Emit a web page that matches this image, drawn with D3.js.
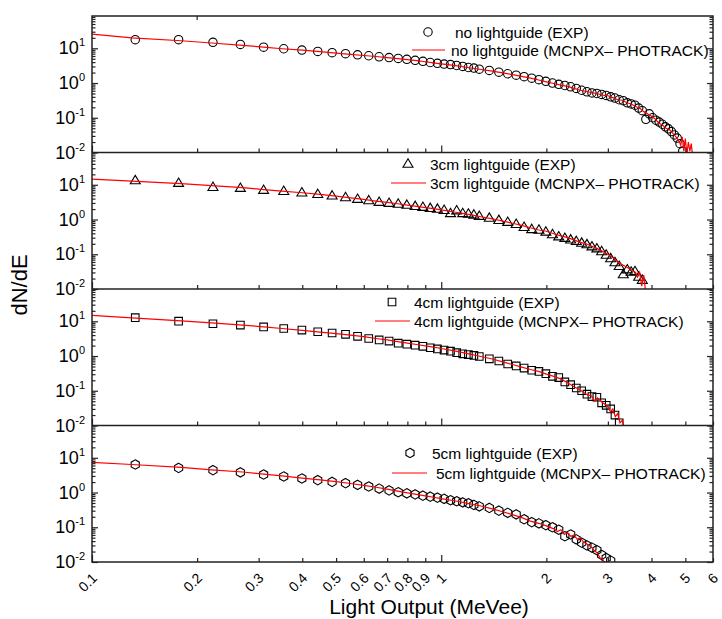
<!DOCTYPE html>
<html>
<head>
<meta charset="utf-8">
<script src="https://cdn.jsdelivr.net/npm/d3@7"></script>
<style>
  body { margin: 0; background: #fff; }
  text { font-family: Arial, "Liberation Sans", sans-serif; fill: #000; }
</style>
</head>
<body>
<svg id="chart" width="722" height="619"></svg>
<script>
// measured channel centres (MeVee) shared by the four EXP spectra
const expEnergy = [
  0.133, 0.177, 0.222, 0.266, 0.310, 0.354, 0.399, 0.443, 0.487, 0.532,
  0.576, 0.620, 0.664, 0.709, 0.753, 0.797, 0.842, 0.886, 0.930, 0.975,
  1.019, 1.063, 1.107, 1.152, 1.196, 1.240, 1.285,
  1.373, 1.462, 1.550, 1.639, 1.727, 1.816, 1.904, 1.993, 2.082, 2.170,
  2.259, 2.347, 2.436, 2.524, 2.613, 2.701, 2.790, 2.879, 2.967, 3.056,
  3.144, 3.233, 3.321, 3.410, 3.498, 3.587, 3.676, 3.764, 3.853, 3.941,
  4.030, 4.118, 4.207, 4.295, 4.384, 4.473, 4.561, 4.650, 4.738, 4.827, 4.915
];

const expNoLg = [
  17.7, 17.7, 14.8, 12.9, 10.8, 9.7, 8.9, 8.1, 7.5, 7.0,
  6.5, 6.1, 5.7, 5.4, 5.1, 4.8, 4.5, 4.2, 3.9, 3.7,
  3.5, 3.4, 3.2, 3.0, 2.8, 2.7, 2.5,
  2.3, 2.05, 1.85, 1.68, 1.52, 1.38, 1.25, 1.12, 1.0, 0.92,
  0.85, 0.78, 0.70, 0.62, 0.56, 0.52, 0.50, 0.47, 0.44, 0.40,
  0.37, 0.33, 0.31, 0.27, 0.25, 0.23, 0.19, 0.16, 0.09, 0.13,
  0.10, 0.085, 0.075, 0.065, 0.055, 0.048, 0.040, 0.032, 0.026, 0.018, 0.011
];
const exp3cm = [
  13.2, 11.1, 8.5, 8.0, 7.0, 6.5, 5.9, 5.3, 4.8, 4.3,
  3.85, 3.5, 3.15, 2.95, 2.8, 2.6, 2.4, 2.26, 2.1, 2.0,
  1.85, 1.5, 1.8, 1.5, 1.45, 1.36, 1.25,
  1.1, 0.95, 0.84, 0.73, 0.6, 0.52, 0.5, 0.44, 0.37, 0.32,
  0.29, 0.26, 0.235, 0.21, 0.19, 0.165, 0.145, 0.12, 0.095, 0.075,
  0.058, 0.045, 0.026, 0.036, 0.031, 0.032, 0.022, 0.018
];
const exp4cm = [
  12.7, 10.1, 8.5, 7.8, 6.9, 6.2, 5.6, 5.0, 4.6, 4.2,
  3.7, 3.2, 2.9, 2.7, 2.35, 2.2, 2.05, 1.9, 1.73, 1.6,
  1.48, 1.38, 1.25, 1.16, 1.1, 1.04, 0.97,
  0.83, 0.72, 0.59, 0.52, 0.45, 0.39, 0.36, 0.31, 0.26, 0.24,
  0.18, 0.15, 0.12, 0.10, 0.08, 0.068, 0.065, 0.045, 0.038, 0.03,
  0.02, 0.012
];
const exp5cm = [
  6.4, 5.1, 4.4, 3.8, 3.3, 2.9, 2.54, 2.27, 2.02, 1.86,
  1.66, 1.49, 1.3, 1.15, 1.02, 0.95, 0.88, 0.81, 0.76, 0.71,
  0.66, 0.6, 0.56, 0.52, 0.49, 0.44, 0.40,
  0.36, 0.30, 0.26, 0.235, 0.17, 0.14, 0.13, 0.115, 0.10, 0.085,
  0.055, 0.062, 0.045, 0.036, 0.030, 0.026, 0.022, 0.016, 0.013, 0.011
];

// MCNPX-PHOTRACK simulated spectra
const simNoLgE = [0.10, 0.13, 0.18, 0.22, 0.27, 0.31, 0.35, 0.40, 0.45, 0.50, 0.55, 0.60, 0.65, 0.70, 0.75, 0.80, 0.85, 0.90, 0.95, 1.00,
  1.10, 1.20, 1.30, 1.40, 1.50, 1.60, 1.70, 1.80, 1.90, 2.00, 2.10, 2.20, 2.30, 2.40, 2.50, 2.60, 2.70, 2.80, 2.90, 3.00,
  3.10, 3.20, 3.30, 3.40, 3.50, 3.60, 3.70, 3.80, 3.90, 4.00, 4.10, 4.20, 4.30, 4.40, 4.50, 4.60, 4.70, 4.80, 4.85, 4.90,
  4.95, 5.00, 5.05, 5.10, 5.15, 5.20, 5.25];
const simNoLgV = [25.6, 20, 16.5, 14.2, 12.2, 10.8, 9.7, 8.8, 8.0, 7.3, 6.7, 6.2, 5.8, 5.4, 5.05, 4.7, 4.4, 4.1, 3.8, 3.55,
  3.15, 2.75, 2.45, 2.2, 1.95, 1.75, 1.55, 1.38, 1.22, 1.08, 0.97, 0.87, 0.80, 0.70, 0.62, 0.57, 0.53, 0.49, 0.45, 0.43,
  0.38, 0.33, 0.32, 0.27, 0.25, 0.21, 0.19, 0.15, 0.13, 0.11, 0.092, 0.07, 0.062, 0.05, 0.046, 0.036, 0.028, 0.021, 0.016, 0.028,
  0.011, 0.025, 0.009, 0.02, 0.011, 0.018, 0.007];

const sim3cmE = [0.10, 0.13, 0.18, 0.22, 0.27, 0.31, 0.35, 0.40, 0.45, 0.50, 0.55, 0.60, 0.65, 0.70, 0.75, 0.80, 0.85, 0.90, 0.95, 1.00,
  1.10, 1.20, 1.30, 1.40, 1.50, 1.60, 1.70, 1.80, 1.90, 2.00, 2.10, 2.20, 2.30, 2.40, 2.50, 2.60, 2.70, 2.80, 2.90, 3.00,
  3.10, 3.20, 3.30, 3.40, 3.50, 3.60, 3.65, 3.70, 3.75, 3.80, 3.85];
const sim3cmV = [14.5, 12.8, 10.8, 9.5, 8.3, 7.3, 6.6, 5.9, 5.3, 4.7, 4.2, 3.8, 3.4, 3.1, 2.85, 2.6, 2.4, 2.2, 2.05, 1.9,
  1.62, 1.4, 1.2, 1.05, 0.9, 0.78, 0.68, 0.58, 0.5, 0.46, 0.39, 0.34, 0.3, 0.26, 0.22, 0.2, 0.17, 0.145, 0.12, 0.1,
  0.08, 0.06, 0.05, 0.042, 0.036, 0.03, 0.022, 0.03, 0.012, 0.025, 0.008];

const sim4cmE = [0.10, 0.13, 0.18, 0.22, 0.27, 0.31, 0.35, 0.40, 0.45, 0.50, 0.55, 0.60, 0.65, 0.70, 0.75, 0.80, 0.85, 0.90, 0.95, 1.00,
  1.10, 1.20, 1.30, 1.40, 1.50, 1.60, 1.70, 1.80, 1.90, 2.00, 2.10, 2.20, 2.30, 2.40, 2.50, 2.60, 2.70, 2.75, 2.80, 2.90,
  3.00, 3.05, 3.10, 3.15, 3.20, 3.25, 3.30, 3.35];
const sim4cmV = [14.8, 12.5, 10.3, 9.0, 7.8, 6.9, 6.2, 5.5, 4.9, 4.4, 4.0, 3.6, 3.2, 2.9, 2.6, 2.35, 2.15, 1.95, 1.8, 1.65,
  1.38, 1.15, 0.97, 0.82, 0.68, 0.57, 0.48, 0.41, 0.36, 0.3, 0.26, 0.22, 0.17, 0.13, 0.105, 0.08, 0.07, 0.05, 0.062, 0.045,
  0.036, 0.025, 0.03, 0.018, 0.022, 0.012, 0.014, 0.008];

const sim5cmE = [0.10, 0.13, 0.18, 0.22, 0.27, 0.31, 0.35, 0.40, 0.45, 0.50, 0.55, 0.60, 0.65, 0.70, 0.75, 0.80, 0.85, 0.90, 0.95, 1.00,
  1.10, 1.20, 1.30, 1.40, 1.50, 1.60, 1.70, 1.80, 1.90, 2.00, 2.10, 2.15, 2.20, 2.25, 2.30, 2.35, 2.40, 2.45, 2.50, 2.55,
  2.60, 2.65, 2.70, 2.75, 2.80, 2.85, 2.90, 2.95];
const sim5cmV = [7.4, 6.4, 5.3, 4.5, 3.9, 3.4, 3.0, 2.6, 2.3, 2.05, 1.82, 1.6, 1.42, 1.25, 1.1, 0.98, 0.88, 0.8, 0.73, 0.67,
  0.57, 0.48, 0.41, 0.34, 0.28, 0.23, 0.19, 0.15, 0.13, 0.11, 0.09, 0.075, 0.085, 0.062, 0.07, 0.055, 0.06, 0.045, 0.05, 0.038,
  0.034, 0.03, 0.026, 0.021, 0.018, 0.013, 0.012, 0.007];

const expLabels = ["no lightguide (EXP)", "3cm lightguide (EXP)", "4cm lightguide (EXP)", "5cm lightguide (EXP)"];
const simLabels = ["no lightguide (MCNPX\u2013 PHOTRACK)", "3cm lightguide (MCNPX\u2013 PHOTRACK)",
  "4cm lightguide (MCNPX\u2013 PHOTRACK)", "5cm lightguide (MCNPX\u2013 PHOTRACK)"];
const markers = ["circle", "triangle", "square", "hexagon"];
const xTickValues = [0.1, 0.2, 0.3, 0.4, 0.5, 0.6, 0.7, 0.8, 0.9, 1, 2, 3, 4, 5, 6];
const xTickLabels = ["0.1", "0.2", "0.3", "0.4", "0.5", "0.6", "0.7", "0.8", "0.9", "1", "2", "3", "4", "5", "6"];
const yDecades = [-2, -1, 0, 1];

const expSeries = [expNoLg, exp3cm, exp4cm, exp5cm];
const simSeries = [[simNoLgE, simNoLgV], [sim3cmE, sim3cmV], [sim4cmE, sim4cmV], [sim5cmE, sim5cmV]];

// layout
const left = 92, right = 713, top0 = 16, panelH = 136.5;
// legend anchor per panel: marker x, text x, first row y, line x0/x1, second row y, second text x
const legendPos = [
  { mx: 428, tx: 455, y1: 32, lx0: 412, lx1: 445, y2: 50, tx2: 451 },
  { mx: 408, tx: 430, y1: 164, lx0: 391, lx1: 426, y2: 183, tx2: 430 },
  { mx: 392, tx: 414, y1: 302, lx0: 375, lx1: 410, y2: 321, tx2: 414 },
  { mx: 410, tx: 432, y1: 453, lx0: 392, lx1: 427, y2: 473, tx2: 436 }
];

const svg = d3.select("#chart");
const x = d3.scaleLog().domain([0.1, 6]).range([left, right]);

function markerPath(kind) {
  if (kind === "triangle") return "M0,-5.2L5,3.2L-5,3.2Z";
  if (kind === "square") return "M-3.8,-3.8H3.8V3.8H-3.8Z";
  if (kind === "hexagon") {
    const r = 4.7;
    return d3.range(6).map(i => {
      const a = Math.PI / 3 * i - Math.PI / 2;
      return (i ? "L" : "M") + (r * Math.cos(a)).toFixed(2) + "," + (r * Math.sin(a)).toFixed(2);
    }).join("") + "Z";
  }
  return d3.symbol().type(d3.symbolCircle).size(Math.PI * 4.2 * 4.2)();
}

const majorY = yDecades.map(d => Math.pow(10, d));
const minorY = [];
yDecades.forEach(d => {
  for (let m = 2; m <= 9; m++) {
    const v = m * Math.pow(10, d);
    if (v <= 85) minorY.push(v);
  }
});

expSeries.forEach((vals, p) => {
  const pTop = top0 + p * panelH, pBot = pTop + panelH;
  const y = d3.scaleLog().domain([0.01, 85]).range([pBot, pTop]);
  const g = svg.append("g");

  svg.append("clipPath").attr("id", "clip" + p)
    .append("rect").attr("x", left).attr("y", pTop).attr("width", right - left).attr("height", panelH);

  const plot = g.append("g").attr("clip-path", "url(#clip" + p + ")");

  // experimental points
  plot.selectAll("path.exp")
    .data(vals.map((v, i) => [expEnergy[i], v]))
    .enter().append("path")
    .attr("class", "exp")
    .attr("d", markerPath(markers[p]))
    .attr("transform", d => "translate(" + x(d[0]) + "," + y(d[1]) + ")")
    .attr("fill", "none")
    .attr("stroke", "#000")
    .attr("stroke-width", 1.1);

  // simulation line
  const sim = simSeries[p];
  plot.append("path")
    .datum(sim[0].map((e, i) => [e, sim[1][i]]))
    .attr("fill", "none")
    .attr("stroke", "#ff0000")
    .attr("stroke-width", 1.2)
    .attr("d", d3.line().x(d => x(d[0])).y(d => y(d[1])));

  // left / right axes, ticks pointing inward
  const axL = g.append("g").attr("transform", "translate(" + left + ",0)");
  axL.call(d3.axisRight(y).tickValues(majorY).tickSize(6).tickFormat(""));
  axL.append("g").call(d3.axisRight(y).tickValues(minorY).tickSize(3.5).tickFormat(""));
  const axR = g.append("g").attr("transform", "translate(" + right + ",0)");
  axR.call(d3.axisLeft(y).tickValues(majorY).tickSize(6).tickFormat(""));
  axR.append("g").call(d3.axisLeft(y).tickValues(minorY).tickSize(3.5).tickFormat(""));

  // bottom ticks pointing up
  const axB = g.append("g").attr("transform", "translate(0," + pBot + ")");
  axB.call(d3.axisTop(x).tickValues(xTickValues).tickSize(4).tickFormat(""));
  axB.selectAll(".tick line").attr("y2", d => (d === 1 || d === 0.1) ? -7 : -4);

  g.selectAll(".domain").remove();
  g.selectAll(".tick line").attr("stroke", "#222").attr("stroke-width", 1.2);

  // y labels 10^k
  const lab = g.selectAll("text.ylab").data(yDecades).enter().append("text")
    .attr("class", "ylab")
    .attr("x", 85)
    .attr("y", d => y(Math.pow(10, d)) + 6)
    .attr("text-anchor", "end")
    .attr("font-size", 18);
  lab.append("tspan").text("10");
  lab.append("tspan").attr("dy", -8).attr("font-size", 11).text(d => d);

  // legend
  const lp = legendPos[p];
  g.append("path").attr("d", markerPath(markers[p]))
    .attr("transform", "translate(" + lp.mx + "," + lp.y1 + ")")
    .attr("fill", "none").attr("stroke", "#000").attr("stroke-width", 1.1);
  g.append("text").attr("x", lp.tx).attr("y", lp.y1 + 5.5).attr("font-size", 15.5).text(expLabels[p]);
  g.append("line").attr("x1", lp.lx0).attr("x2", lp.lx1).attr("y1", lp.y2).attr("y2", lp.y2)
    .attr("stroke", "#ff0000").attr("stroke-width", 1.2);
  g.append("text").attr("x", lp.tx2).attr("y", lp.y2 + 5.5).attr("font-size", 15.5).text(simLabels[p]);
});

// frame and panel separators
svg.append("rect").attr("x", left).attr("y", top0).attr("width", right - left).attr("height", panelH * 4)
  .attr("fill", "none").attr("stroke", "#222").attr("stroke-width", 1.5);
d3.range(1, 4).forEach(i => {
  svg.append("line").attr("x1", left).attr("x2", right)
    .attr("y1", top0 + i * panelH).attr("y2", top0 + i * panelH)
    .attr("stroke", "#222").attr("stroke-width", 1.5);
});
// small tick at top edge
svg.append("line").attr("x1", x(0.2)).attr("x2", x(0.2)).attr("y1", top0).attr("y2", top0 + 4)
  .attr("stroke", "#222").attr("stroke-width", 1.2);

// x tick labels, rotated
const bottom = top0 + panelH * 4;
svg.selectAll("text.xlab").data(xTickValues).enter().append("text")
  .attr("class", "xlab")
  .attr("text-anchor", "end")
  .attr("font-size", 14)
  .attr("transform", (d, i) => "translate(" + (x(d) + 6) + "," + (bottom + 17) + ") rotate(-45)")
  .text((d, i) => xTickLabels[i]);

// axis titles
svg.append("text").attr("x", 429).attr("y", 614).attr("text-anchor", "middle")
  .attr("font-size", 21).text("Light Output (MeVee)");
svg.append("text").attr("transform", "translate(27,285) rotate(-90)").attr("text-anchor", "middle")
  .attr("font-size", 22).text("dN/dE");
</script>
</body>
</html>
